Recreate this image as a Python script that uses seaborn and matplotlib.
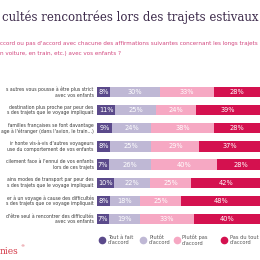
import matplotlib
matplotlib.use("Agg")
import matplotlib.pyplot as plt
import seaborn as sns
import pandas as pd
import numpy as np
from matplotlib.lines import Line2D

sns.set_theme(style="white")
plt.rcParams['font.family'] = ['DejaVu Sans']

title = "cultés rencontrées lors des trajets estivaux"
subtitle1 = "ccord ou pas d'accord avec chacune des affirmations suivantes concernant les longs trajets"
subtitle2 = "n voiture, en train, etc.) avec vos enfants ?"
row_labels = [
    "s autres vous pousse à être plus strict\navec vos enfants",
    "destination plus proche par peur des\ns des trajets que le voyage impliquait",
    "familles françaises se font davantage\nage à l'étranger (dans l'avion, le train...)",
    "ir honte vis-à-vis d'autres voyageurs\nuse du comportement de vos enfants",
    "cilement face à l'ennui de vos enfants\nlors de ces trajets",
    "ains modes de transport par peur des\ns des trajets que le voyage impliquait",
    "er à un voyage à cause des difficultés\ns des trajets que ce voyage impliquait",
    "d'être seul à rencontrer des difficultés\navec vos enfants",
]
series = ["Tout à fait\nd'accord", "Plutôt\nd'accord", "Plutôt pas\nd'accord", "Pas du tout\nd'accord"]
tout_a_fait = [8, 11, 9, 8, 7, 10, 8, 7]
plutot = [30, 25, 24, 25, 26, 22, 18, 19]
plutot_pas = [33, 24, 38, 29, 40, 25, 25, 33]
pas_du_tout = [28, 39, 28, 37, 28, 42, 48, 40]
colors = ["#5b4a8b", "#bfb8d5", "#f6a8c3", "#d4114f"]

vals = np.array([tout_a_fait, plutot, plutot_pas, pas_du_tout])
cum = np.cumsum(vals, axis=0)

W, H = 260, 260
fig = plt.figure(figsize=(2.6, 2.6), dpi=100)
fig.patch.set_facecolor("white")

top_px, bot_px = 83, 228
left_px, width_px = 97, 165
ax = fig.add_axes([left_px / W, 1 - bot_px / H, width_px / W, (bot_px - top_px) / H])

ids = [f"r{i}" for i in range(len(row_labels))]
for k in range(3, -1, -1):
    df = pd.DataFrame({"row": ids, "v": cum[k]})
    sns.barplot(data=df, x="v", y="row", orient="h", color=colors[k],
                width=0.56, ax=ax, saturation=1, linewidth=0)

for i in range(len(ids)):
    for k in range(4):
        start = cum[k][i] - vals[k][i]
        ax.text(start + vals[k][i] / 2, i, f"{vals[k][i]}%", ha="center", va="center",
                fontsize=4.8, color="white")
    ax.text(-2.0, i, row_labels[i], ha="right", va="center", fontsize=3.3,
            color="#3a3a3a", linespacing=1.1, clip_on=False)

ax.set_xlim(0, 100)
ax.set_ylim(len(ids) - 0.5, -0.5)
ax.axis("off")

fig.text(259 / W, 1 - 17 / H, title, ha="right", va="center", fontsize=8.5,
         family="DejaVu Serif", color="#3e2c4c")
fig.text(0, 1 - 43 / H, subtitle1, ha="left", va="center", fontsize=4.1, color="#d2477f")
fig.text(0, 1 - 54 / H, subtitle2, ha="left", va="center", fontsize=4.1, color="#d2477f")

mk_x = [102, 143, 177, 224]
tx_x = [108, 149, 182, 230]
ly = 1 - 240 / H
for k in range(4):
    fig.add_artist(Line2D([mk_x[k] / W], [ly], marker="o", markersize=4.5,
                          color=colors[k], linestyle="none", transform=fig.transFigure))
    fig.text(tx_x[k] / W, ly, series[k], ha="left", va="center", fontsize=3.7,
             color="#555555", linespacing=1.15)

fig.text(0, 1 - 252 / H, "nies", ha="left", va="center", fontsize=6.5,
         family="DejaVu Serif", color="#d43a48")
fig.text(20 / W, 1 - 246 / H, "®", ha="left", va="center", fontsize=3, color="#d43a48")

fig.savefig("out.png", dpi=100, facecolor="white")
